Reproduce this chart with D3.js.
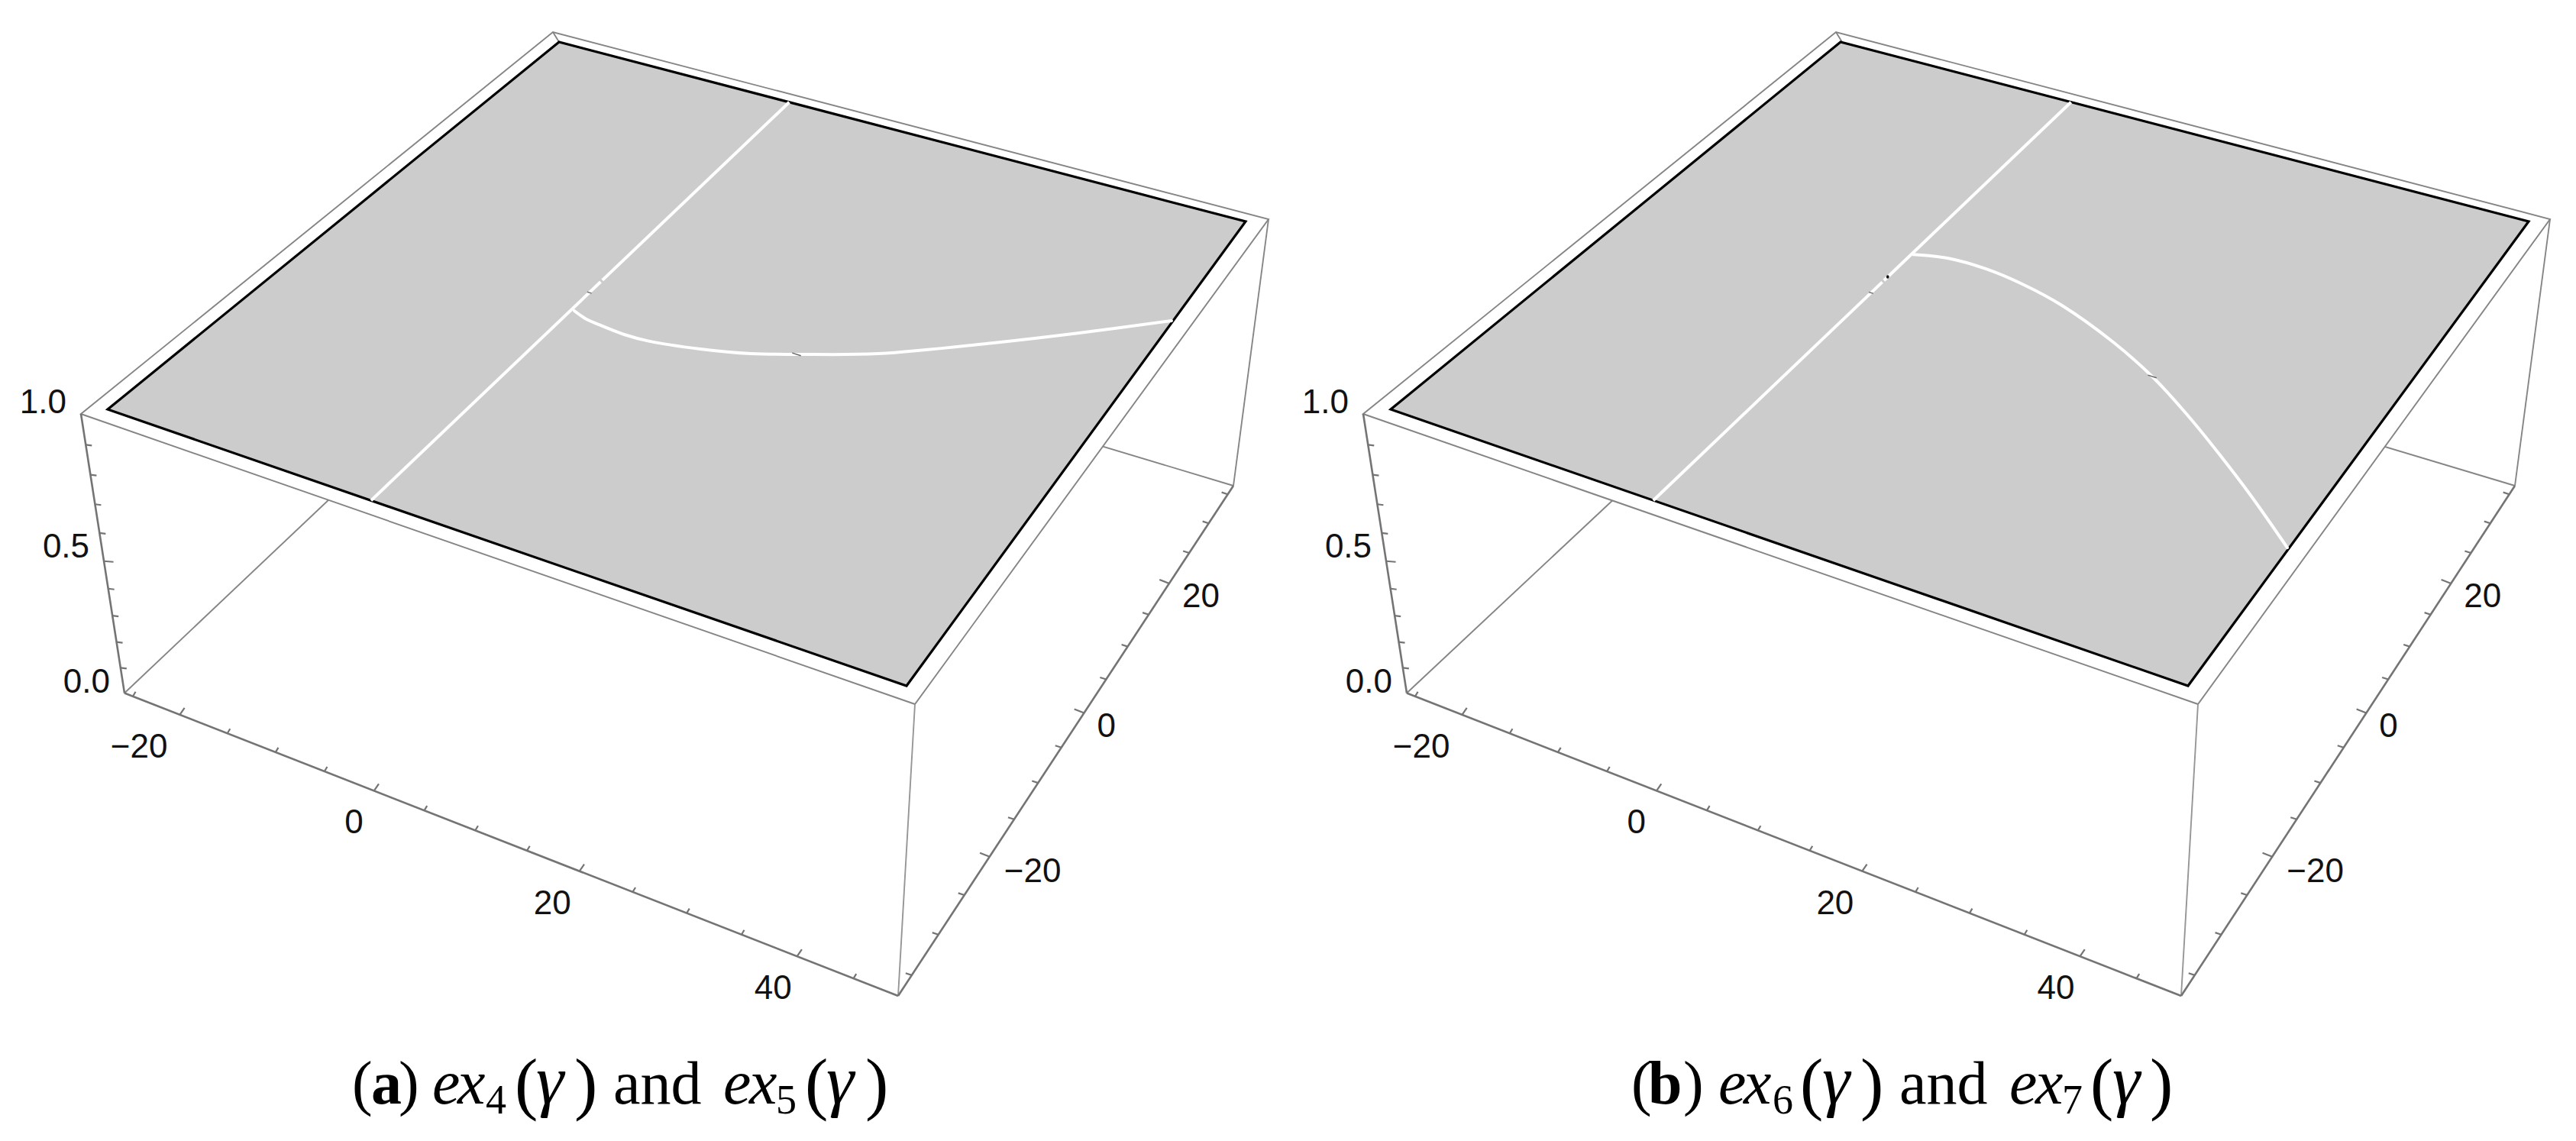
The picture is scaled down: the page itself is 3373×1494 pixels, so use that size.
<!DOCTYPE html>
<html>
<head>
<meta charset="utf-8">
<script src="https://cdn.jsdelivr.net/npm/d3@7"></script>
<style>
html,body{margin:0;padding:0;background:#fff;}
svg{display:block;}
</style>
</head>
<body>
<div id="chart"></div>
<script>
// ---------- data ----------
const xTicks = [-25,-20,-15,-10,-5,0,5,10,15,20,25,30,35,40,45];
const yTicks = [-35,-30,-25,-20,-15,-10,-5,0,5,10,15,20,25,30,35];
const zTicks = [0.1,0.2,0.3,0.4,0.5,0.6,0.7,0.8,0.9];
const xLabels = [-20,0,20,40];
const yLabels = [-20,0,20];
const zLabels = [0,0.5,1];
const verticalLineX = 0;
const verticalLineSegments = [[-36,-0.25],[0.05,36]];
const defectMarksLine = [-2.2];
const curveAx = [0.31,1.74,3.10,5.81,8.10,12.45,16.45,19.84,25.76,33.52,39.03,45.38];
const curveAy = [-5.29,-5.88,-6.12,-6.42,-6.30,-5.27,-3.87,-2.13,1.22,7.30,11.95,17.62];
const curveBx = [0.15,3.08,6.83,10.94,15.29,21.58,26.61,31.32,36.02,40.38,45.36];
const curveBy = [4.93,5.85,5.92,5.22,3.89,0.93,-2.09,-5.59,-9.45,-13.24,-17.86];
const captionA = [["(","p"],["a","b"],[")","p"],["e","i"],["x","i"],["4","s"],["(","P"],["γ","g"],[")","P"],["and","p"],["e","i"],["x","i"],["5","s"],["(","P"],["γ","g"],[")","P"]];
const captionB = [["(","p"],["b","b"],[")","p"],["e","i"],["x","i"],["6","s"],["(","P"],["γ","g"],[")","P"],["and","p"],["e","i"],["x","i"],["7","s"],["(","P"],["γ","g"],[")","P"]];

// ---------- layout ----------
const W = 3373, H = 1494;
const planeDomX = [-25.5,45.5], planeDomY = [-36,36];
const boxDomX = [-25.9,48.9], boxDomY = [-37.5,36.5], boxDomZ = [0,1];
const perspX = 0.899, perspY = 1.2115, perspZ = 0.8964;
const panels = [
 { plane:[[141,536],[1187,898],[1631,290],[732,55]],
   back:[724,42], right:[1661,287], front:[1198,922], left:[106,542],
   zero:[163,907.5], frontB:[1176,1304], rightB:[1615,636], hidden:[731,370],
   curveX:curveAx, curveY:curveAy, curveMark:7,
   blob:null,
   caption:captionA,
   capX:[461,486,522,566,599,636,674,702,752,803,947,981,1016,1054,1082,1133] },
 { plane:[[1821,536],[2865,898],[3311,290],[2410,55]],
   back:[2404,42], right:[3339,287], front:[2878,922], left:[1785,542],
   zero:[1842,907.5], frontB:[2856,1304], rightB:[3293,636], hidden:[2414,372],
   curveX:curveBx, curveY:curveBy, curveMark:6,
   blob:0.7,
   caption:captionB,
   capX:[2136,2158,2204,2250,2283,2321,2357,2386,2436,2487,2631,2665,2700,2737,2766,2815] }
];
const capStyle = {
 p:{size:80,dy:1445,weight:400,style:"normal"},
 b:{size:80,dy:1445,weight:700,style:"normal"},
 i:{size:82,dy:1445,weight:400,style:"italic"},
 g:{size:92,dy:1445,weight:400,style:"italic"},
 s:{size:54,dy:1458,weight:400,style:"normal"},
 P:{size:91,dy:1449,weight:300,style:"normal"}
};

// ---------- helpers ----------
function homography(q){
  const [p0,p1,p2,p3]=q;
  const dx1=p1[0]-p2[0],dx2=p3[0]-p2[0],sx=p0[0]-p1[0]+p2[0]-p3[0];
  const dy1=p1[1]-p2[1],dy2=p3[1]-p2[1],sy=p0[1]-p1[1]+p2[1]-p3[1];
  const det=dx1*dy2-dx2*dy1;
  const g=(sx*dy2-dx2*sy)/det,h=(dx1*sy-sx*dy1)/det;
  const a=p1[0]-p0[0]+g*p1[0],b=p3[0]-p0[0]+h*p3[0],c=p0[0];
  const d=p1[1]-p0[1]+g*p1[1],e=p3[1]-p0[1]+h*p3[1],f=p0[1];
  return (u,v)=>{const w=g*u+h*v+1;return [(a*u+b*v+c)/w,(d*u+e*v+f)/w];};
}
function edge(A,B,ratio,scale){
  return val=>{
    const t=scale(val);
    const s=t*ratio/((1-t)+t*ratio);
    return [A[0]+(B[0]-A[0])*s,A[1]+(B[1]-A[1])*s];
  };
}
const fmtMinus = v => String(v>=0 ? v : "\u2212"+Math.abs(v));

const svg = d3.select("#chart").append("svg").attr("width",W).attr("height",H).attr("viewBox",[0,0,W,H]);
svg.append("rect").attr("width",W).attr("height",H).attr("fill","#fff");

const xPlane=d3.scaleLinear().domain(planeDomX).range([0,1]);
const yPlane=d3.scaleLinear().domain(planeDomY).range([0,1]);
const xBox=d3.scaleLinear().domain(boxDomX).range([0,1]);
const yBox=d3.scaleLinear().domain(boxDomY).range([0,1]);
const zBox=d3.scaleLinear().domain(boxDomZ).range([0,1]);
const polyLine=d3.line();
const smooth=d3.line().curve(d3.curveCatmullRom.alpha(0.5));

const THIN="#858585", AXIS="#747474", TXT="#111111";

panels.forEach(P=>{
  const g=svg.append("g");
  const H2=homography(P.plane);
  const proj=(x,y)=>H2(xPlane(x),yPlane(y));
  const thin=(a,b,c=THIN,w=1.9)=>g.append("path").attr("d",polyLine([a,b])).attr("stroke",c).attr("stroke-width",w).attr("fill","none");

  // hidden back edges, covered by the top of the box
  thin(P.zero,P.hidden); thin(P.rightB,P.hidden);
  // box top
  g.append("path").attr("d",polyLine([P.left,P.front,P.right,P.back])+"Z")
    .attr("fill","#fff").attr("stroke",THIN).attr("stroke-width",1.9).attr("stroke-linejoin","miter");
  // vertical edges
  thin(P.right,P.rightB);
  thin(P.front,P.frontB,"#969696",1.9);
  thin(P.back,[P.back[0]+8,P.back[1]+13]);

  // plane
  const c=[[planeDomX[0],planeDomY[0]],[planeDomX[1],planeDomY[0]],[planeDomX[1],planeDomY[1]],[planeDomX[0],planeDomY[1]]].map(d=>proj(d[0],d[1]));
  g.append("path").attr("d",polyLine(c)+"Z").attr("fill","#cccccc").attr("stroke","#000").attr("stroke-width",3.2).attr("stroke-linejoin","miter");

  // white loci
  verticalLineSegments.forEach(seg=>{
    const pts=seg.map(y=>proj(verticalLineX,y));
    g.append("path").attr("d",polyLine(pts)).attr("stroke","#fff").attr("stroke-width",4).attr("fill","none");
  });
  const curvePts=P.curveX.map((x,i)=>proj(x,P.curveY[i]));
  g.append("path").attr("d",smooth(curvePts)).attr("stroke","#fff").attr("stroke-width",4).attr("fill","none").attr("stroke-linecap","round");

  // small rendering defects
  const mark=(pt,len,col,w)=>g.append("path").attr("d",polyLine([[pt[0]-len*0.95,pt[1]-len*0.3],[pt[0]+len*0.95,pt[1]+len*0.3]])).attr("stroke",col).attr("stroke-width",w);
  defectMarksLine.forEach(y=>mark(proj(verticalLineX,y),3,"#777",1.6));
  mark(curvePts[P.curveMark],6,"#666",1.5);
  if(P.blob!==null){
    const b=proj(verticalLineX,P.blob);
    g.append("ellipse").attr("cx",b[0]).attr("cy",b[1]).attr("rx",1.8).attr("ry",2.2).attr("fill","#111");
  }

  // axis edges
  const xE=edge(P.zero,P.frontB,perspX,xBox);
  const yE=edge(P.frontB,P.rightB,perspY,yBox);
  const zE=edge(P.zero,P.left,perspZ,zBox);
  thin(P.zero,P.frontB,AXIS,2.6);
  thin(P.frontB,P.rightB,AXIS,2.6);
  thin(P.zero,P.left,AXIS,2.6);

  // ticks
  const tick=(pos,dx,dy)=>g.append("path").attr("d",polyLine([pos,[pos[0]+dx,pos[1]+dy]])).attr("stroke",AXIS).attr("stroke-width",2.2).attr("fill","none");
  xTicks.forEach(v=>{const M=xLabels.includes(v);tick(xE(v),M?6.2:3.6,M?-9:-6);});
  yTicks.forEach(v=>{const M=yLabels.includes(v);tick(yE(v),M?-12.7:-8,M?-5:-2.6);});
  zTicks.forEach(v=>{const M=v===0.5;tick(zE(v),M?12.5:8,1);});

  // labels
  const lab=(pos,dx,dy,str,anc)=>g.append("text").attr("x",pos[0]+dx).attr("y",pos[1]+dy).attr("text-anchor",anc)
     .attr("font-family","'Liberation Sans',Arial,sans-serif").attr("font-size",44).attr("fill",TXT).text(str);
  xLabels.forEach(v=>lab(xE(v),v<0?-16:(v===0?-14:(v===20?-11:-7)),56,fmtMinus(v),"end"));
  yLabels.forEach(v=>lab(yE(v),v<0?19:17,v<0?33:31,fmtMinus(v),"start"));
  zLabels.forEach(v=>lab(zE(v),-19,v===0.5?-5:-1,d3.format(".1f")(v),"end"));

  // caption
  const t=g.append("text").attr("font-family","'Liberation Serif','Times New Roman',serif").attr("fill","#000");
  P.caption.forEach((d,i)=>{
    const s=capStyle[d[1]];
    t.append("tspan").attr("x",P.capX[i]).attr("y",s.dy).attr("font-size",s.size)
     .attr("font-weight",s.weight).attr("font-style",s.style).text(d[0]);
  });
});
</script>
</body>
</html>
